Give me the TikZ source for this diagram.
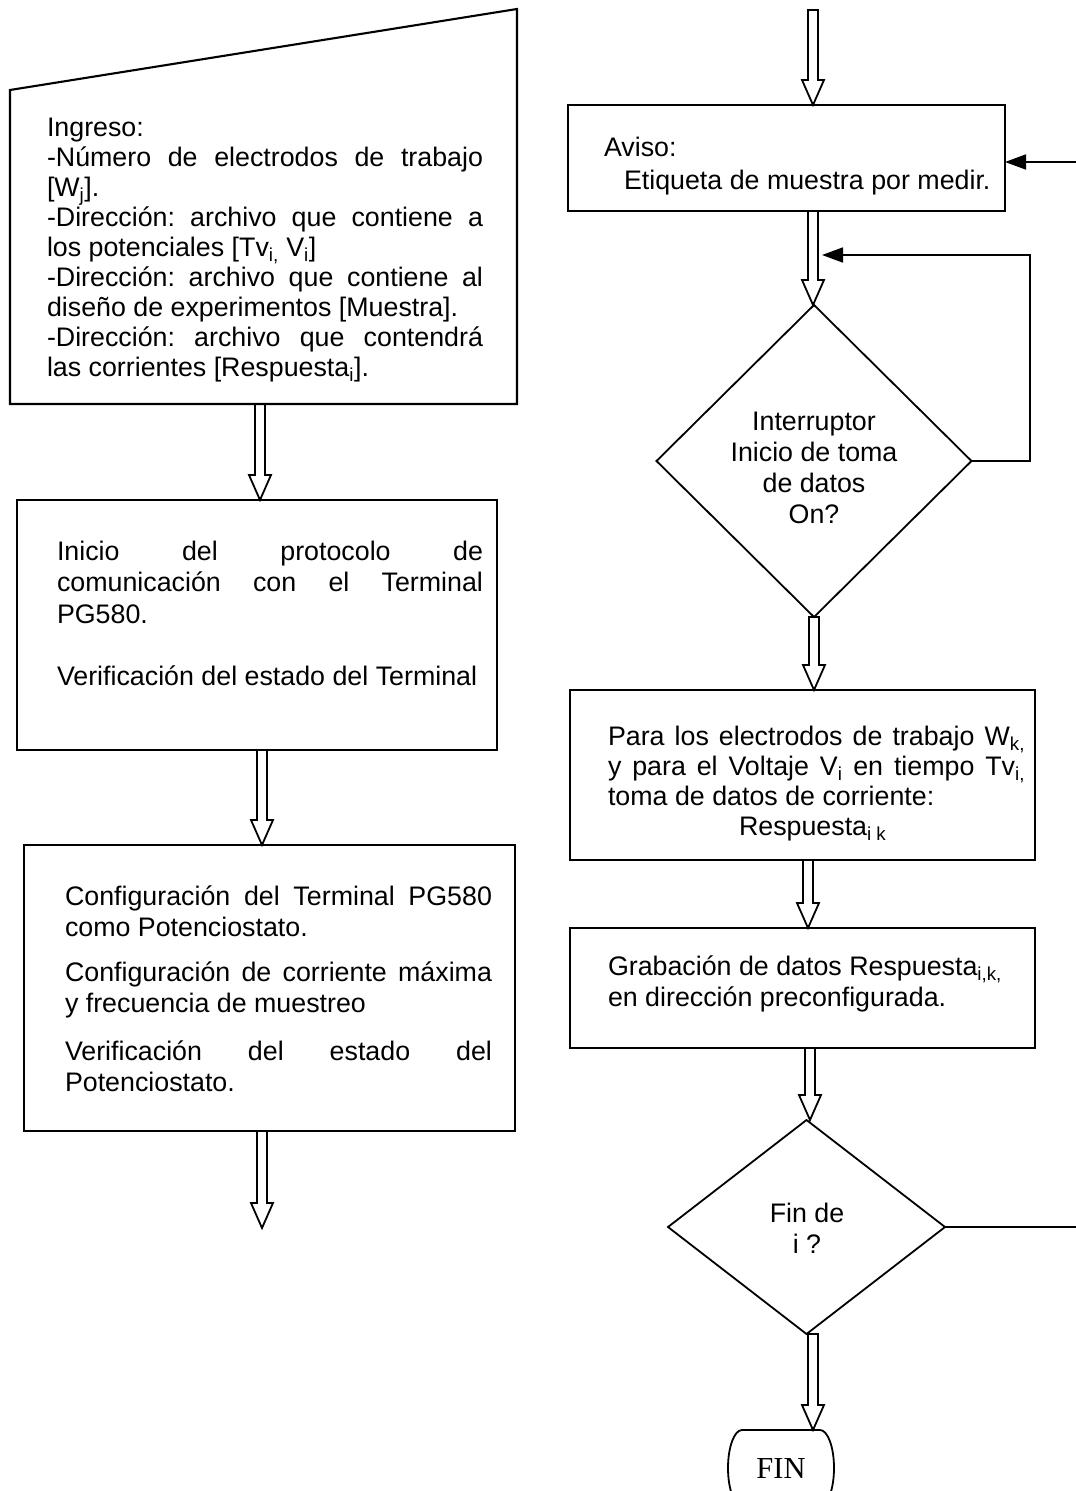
\documentclass[tikz,border=0pt]{standalone}
\usepackage{fontspec}
\setmainfont{Liberation Sans}
\newfontfamily\finfont{Liberation Serif}
\usetikzlibrary{arrows.meta,calc,shapes.geometric}
\newcommand\jl[2]{\makebox[#1][s]{#2}}
\frenchspacing
\begin{document}
\begin{tikzpicture}[x=1pt,y=-1pt,
  every node/.style={inner sep=0pt,outer sep=0pt},
  box/.style={draw,line width=2.1pt,rectangle},
  dec/.style={draw,line width=1.8pt,diamond},
  txt/.style={font=\fontsize{26.8}{31.5}\selectfont,align=left,anchor=north west},
  ctxt/.style={font=\fontsize{26.8}{31}\selectfont,align=center},
  blockarrow/.style={line width=1.8pt,to path={let \p1=(\tikztostart),\p2=(\tikztotarget) in (\x1-5pt,\y1) -- (\x1-5pt,\y2+25pt) -- (\x1-11pt,\y2+25pt) -- (\x1,\y2) -- (\x1+11pt,\y2+25pt) -- (\x1+5pt,\y2+25pt) -- (\x1+5pt,\y1) -- cycle}},
  flow/.style={line width=1.8pt,-{Triangle[length=21pt,width=15pt]}},
  plain/.style={line width=1.8pt}]
\fill[white] (0,0) rectangle (1076,1491);
\useasboundingbox (0,0) rectangle (1076,1491);
\clip (0,0) rectangle (1076,1491);
% ---------- left column ----------
\coordinate (tl) at (10,90);
\coordinate (tr) at (517,9);
\coordinate (br) at (517,404);
\coordinate (bl) at (10,404);
\draw[line width=2.1pt] (tl) -- (tr) -- (br) -- (bl) -- cycle;
\node[txt,font=\fontsize{26.8}{30.1}\selectfont] (tin) at (47,115) {\strut Ingreso:\\
\jl{436pt}{-Número de electrodos de trabajo}\\{}[W\textsubscript{j}].\\
\jl{436pt}{-Dirección: archivo que contiene a}\\
los potenciales [Tv\textsubscript{i,} V\textsubscript{i}]\\
\jl{436pt}{-Dirección: archivo que contiene al}\\
diseño de experimentos [Muestra].\\
\jl{436pt}{-Dirección: archivo que contendrá}\\
las corrientes [Respuesta\textsubscript{i}].};
\coordinate (a1s) at (260,404);
\node[box,minimum width=480pt,minimum height=250pt] (b2) at (257,625) {};
\node[txt] (t2) at (57,538) {\strut\jl{426pt}{Inicio del protocolo de}\\
\jl{426pt}{comunicación con el Terminal}\\
PG580.\\[31pt]
Verificación del estado del Terminal};
\draw[blockarrow] (a1s) to (b2.north);
\coordinate (a2s) at (262,750);
\node[box,minimum width=491pt,minimum height=286pt] (b3) at (269.5,988) {};
\node[txt] (t3) at (65,883) {\strut\jl{427pt}{Configuración del Terminal PG580}\\
como Potenciostato.\\[13pt]
\jl{427pt}{Configuración de corriente máxima}\\
y frecuencia de muestreo\\[16pt]
\jl{427pt}{Verificación del estado del}\\
Potenciostato.};
\draw[blockarrow] (a2s) to (b3.north);
\coordinate (a3s) at (262,1131);
\coordinate (e1) at (262,1228);
\draw[blockarrow] (a3s) to (e1);
% ---------- right column ----------
\coordinate (a4s) at (813,10);
\node[box,minimum width=437pt,minimum height=106pt] (aviso) at (786.5,158) {};
\node[txt,font=\fontsize{26.8}{33}\selectfont] (tav) at (604,133) {\strut Aviso:\\\hspace*{20pt}Etiqueta de muestra por medir.};
\draw[blockarrow] (a4s) to (aviso.north);
\node[dec,minimum width=315pt,minimum height=312pt] (d1) at (814,461) {};
\node[ctxt] (td1) at (814,471) {\strut Interruptor\\Inicio de toma\\de datos\\On?\strut};
\coordinate (a5s) at (813,211);
\draw[blockarrow] (a5s) to (d1.north);
\coordinate (fbc) at (1030,255);
\coordinate (fbt) at (822,255);
\draw[flow] (d1.east) -| (fbc) -- (fbt);
\coordinate (lpa) at (1076,162);
\draw[flow] (lpa) -- (lpa -| aviso.east);
\node[box,minimum width=465pt,minimum height=170pt] (para) at (802.5,775) {};
\node[txt,font=\fontsize{26.8}{30}\selectfont] (tpara) at (608,724) {\strut\jl{417pt}{Para los electrodos de trabajo W\textsubscript{k,}}\\
\jl{417pt}{y para el Voltaje V\textsubscript{i} en tiempo Tv\textsubscript{i,}}\\
toma de datos de corriente:\\
\hspace*{131pt}Respuesta\textsubscript{i k}};
\draw[blockarrow] (d1.south) to (para.north);
\coordinate (a7s) at (808,860);
\node[box,minimum width=465pt,minimum height=120pt] (grab) at (802.5,988) {};
\node[txt] (tgrab) at (608,953) {\strut Grabación de datos Respuesta\textsubscript{i,k,}\\en dirección preconfigurada.};
\draw[blockarrow] (a7s) to (grab.north);
\coordinate (a8s) at (810,1048);
\node[dec,minimum width=277pt,minimum height=214pt] (d2) at (806.5,1227) {};
\node[ctxt] (td2) at (807,1232) {\strut Fin de\\i ?\strut};
\draw[blockarrow] (a8s) to (d2.north);
\coordinate (lpb) at (1076,1224);
\draw[plain] (d2.east) -- (d2.east -| lpb);
\coordinate (a9s) at (813,1334);
\node[minimum width=106pt,minimum height=76pt,font=\finfont\fontsize{30.5}{36}\selectfont] (fin) at (781,1468) {FIN};
\draw[plain] ([xshift=-39pt]fin.north) -- ([xshift=39pt]fin.north)
  arc[start angle=90,end angle=-90,x radius=14pt,y radius=38pt]
  -- ([xshift=-39pt]fin.south)
  arc[start angle=270,end angle=90,x radius=14pt,y radius=38pt] -- cycle;
\draw[blockarrow] (a9s) to (fin.north);
\end{tikzpicture}
\end{document}
